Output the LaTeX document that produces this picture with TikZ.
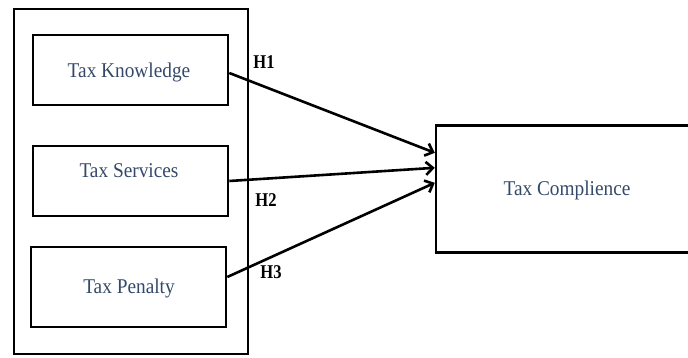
\documentclass[tikz,border=0pt]{standalone}
\usepackage{fontspec}
\setmainfont[FakeStretch=0.92]{Liberation Serif}
\newfontfamily\hfont[FakeStretch=0.85]{Liberation Serif}
\usetikzlibrary{arrows.meta,calc}
\definecolor{txtblue}{HTML}{34496A}
\begin{document}
\begin{tikzpicture}[x=1pt,y=-1pt,
  box/.style={draw=black,line width=2.6pt,minimum width=195pt,inner sep=0pt},
  lbl/.style={text=txtblue,font=\fontsize{21}{23}\selectfont,inner sep=0pt},
  hlbl/.style={font=\hfont\fontsize{19.5}{21}\selectfont\bfseries,inner sep=0pt},
  arr/.style={line width=2.6pt,-{Straight Barb[length=7pt,width=13pt]}}]
\useasboundingbox (0,0) rectangle (688,358);
\node[draw=black,line width=2.4pt,minimum width=234pt,minimum height=345pt,inner sep=0pt] (outer) at (131,181.5) {};
\node[box,minimum height=70pt] (tk) at (130.5,70) {};
\node[lbl] (tkl) at (129,72) {Tax Knowledge};
\node[box,minimum height=70pt] (ts) at (130.5,181) {};
\node[lbl] (tsl) at (129,171) {Tax Services};
\node[box,minimum height=80pt] (tp) at (128.5,287) {};
\node[lbl] (tpl) at (129,288) {Tax Penalty};
\node[minimum width=260pt,minimum height=126pt,inner sep=0pt] (tc) at (566,189) {};
\draw[line width=2.6pt] (tc.north east) -- (tc.north west) -- (tc.south west) -- (tc.south east);
\node[lbl] (tcl) at (567,190) {Tax Complience};
\coordinate (e1) at ($(tc.north west)+(-1,27)$);
\coordinate (e2) at ($(tc.north west)+(-1,42)$);
\coordinate (e3) at ($(tc.north west)+(-1,57)$);
\draw[arr] ($(tk.east)+(0,3)$) -- (e1);
\draw[arr] (ts.east) -- (e2);
\draw[arr] ($(tp.east)+(0,-10)$) -- (e3);
\node[hlbl] (h1) at (264,62) {H1};
\node[hlbl] (h2) at (266,200) {H2};
\node[hlbl] (h3) at (271,272) {H3};
\end{tikzpicture}
\end{document}
